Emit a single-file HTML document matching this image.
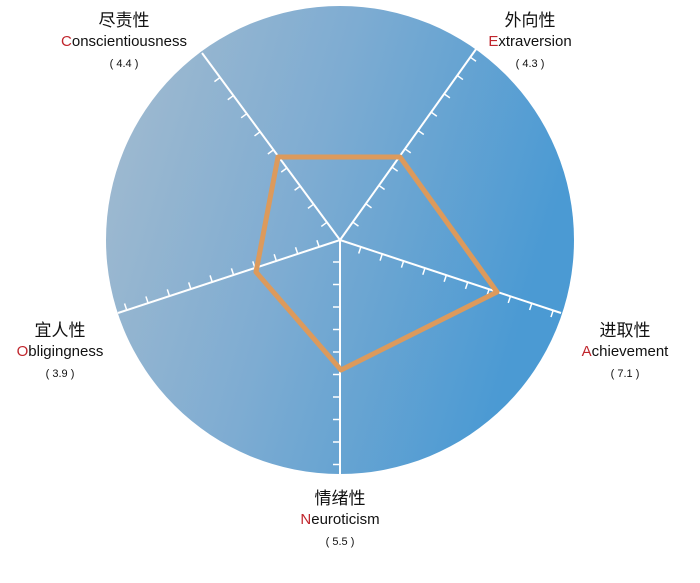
<!DOCTYPE html>
<html><head><meta charset="utf-8"><style>
html,body{margin:0;padding:0;background:#fff;width:700px;height:583px;overflow:hidden}
.l{position:absolute;text-align:center;font-family:"Liberation Sans","Noto Sans CJK SC",sans-serif;color:#111}
.c{font-size:17px;line-height:21px}
.e{font-size:15px;line-height:21px}
.e b{color:#c0262d;font-weight:normal}
.v{font-size:11px;line-height:24px}
</style></head><body>
<svg id="s" width="700" height="583" style="position:absolute;left:0;top:0">
<defs><linearGradient id="g" x1="0" y1="0" x2="1" y2="0.3">
<stop offset="0" stop-color="#a5bccf"/><stop offset="0.5" stop-color="#7eacd2"/><stop offset="1" stop-color="#4b9ad3"/></linearGradient></defs>
<circle cx="340" cy="240" r="234" fill="url(#g)"/>
<g id="ax" stroke="#fff" stroke-width="2" fill="none"></g>
<polygon points="278,157 400,157 497,292 341,370 256,272" fill="none" stroke="#dc9a5c" stroke-width="5" stroke-linejoin="round"/>
</svg>
<div class="l" style="left:24px;top:10px;width:200px"><div class="c">尽责性</div><div class="e"><b>C</b>onscientiousness</div><div class="v">( 4.4 )</div></div>
<div class="l" style="left:455px;top:10px;width:150px"><div class="c">外向性</div><div class="e"><b>E</b>xtraversion</div><div class="v">( 4.3 )</div></div>
<div class="l" style="left:550px;top:320px;width:150px"><div class="c">进取性</div><div class="e"><b>A</b>chievement</div><div class="v">( 7.1 )</div></div>
<div class="l" style="left:0px;top:320px;width:120px"><div class="c">宜人性</div><div class="e"><b>O</b>bligingness</div><div class="v">( 3.9 )</div></div>
<div class="l" style="left:280px;top:488px;width:120px"><div class="c">情绪性</div><div class="e"><b>N</b>euroticism</div><div class="v">( 5.5 )</div></div>
<script>
var cx=340,cy=240,ends=[[202,53],[479,45],[561,313],[340,474],[118,313]];
var g=document.getElementById('ax'),h='';
ends.forEach(function(e,i){
 h+='<line x1="'+cx+'" y1="'+cy+'" x2="'+e[0]+'" y2="'+e[1]+'"/>';
 var dx=e[0]-cx,dy=e[1]-cy,L=Math.hypot(dx,dy),ux=dx/L,uy=dy/L,px=-uy,py=ux;
 if(i==0){px=-px;py=-py;}
 for(var d=22;d<L-8;d+=22.5){var x=cx+ux*d,y=cy+uy*d;
  h+='<line stroke-width="1.5" x1="'+x+'" y1="'+y+'" x2="'+(x+px*7)+'" y2="'+(y+py*7)+'"/>';}
});
g.innerHTML=h;
</script>
</body></html>
